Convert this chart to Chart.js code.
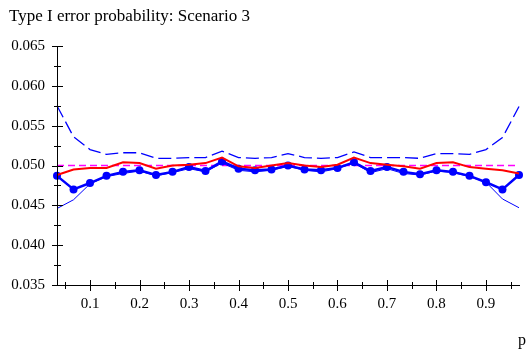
<!DOCTYPE html>
<html>
<head>
<meta charset="utf-8">
<script src="https://cdn.jsdelivr.net/npm/chart.js@4"></script>
<style>
  html, body { margin: 0; padding: 0; background: #fff; }
</style>
</head>
<body>
<canvas id="errChart" width="532" height="354"></canvas>
<script>
// valores de p (k/30)
const pValues = [0.0333, 0.0667, 0.1, 0.1333, 0.1667, 0.2, 0.2333, 0.2667, 0.3, 0.3333,
  0.3667, 0.4, 0.4333, 0.4667, 0.5, 0.5333, 0.5667, 0.6, 0.6333, 0.6667,
  0.7, 0.7333, 0.7667, 0.8, 0.8333, 0.8667, 0.9, 0.9333, 0.9667];

// series
const redSeries = [0.0488, 0.0495, 0.0497, 0.0497, 0.0504, 0.0503, 0.0496, 0.0500, 0.0501, 0.0503,
  0.0510, 0.0499, 0.0497, 0.0500, 0.0503, 0.0500, 0.0498, 0.0501, 0.0510, 0.0503,
  0.0501, 0.0499, 0.0496, 0.0503, 0.0504, 0.0498, 0.0496, 0.0494, 0.0490];
const upperDashed = [0.0575, 0.0536, 0.0520, 0.0514, 0.0516, 0.0516, 0.0509, 0.0509, 0.0510, 0.0510,
  0.0518, 0.0510, 0.0509, 0.0510, 0.0515, 0.0510, 0.0509, 0.0510, 0.0517, 0.0510,
  0.0510, 0.0510, 0.0509, 0.0515, 0.0515, 0.0514, 0.0520, 0.0535, 0.0574];
const markerSeries = [0.0487, 0.0470, 0.0478, 0.0487, 0.0492, 0.0494, 0.0488, 0.0492, 0.0498, 0.0493,
  0.0505, 0.0496, 0.0494, 0.0495, 0.0500, 0.0495, 0.0494, 0.0497, 0.0504, 0.0493,
  0.0498, 0.0492, 0.0489, 0.0494, 0.0492, 0.0487, 0.0479, 0.0470, 0.0488];
const lowerThin = [0.0446, 0.0457, 0.0477, 0.0486, 0.0490, 0.0493, 0.0487, 0.0491, 0.0496, 0.0492,
  0.0503, 0.0494, 0.0492, 0.0494, 0.0499, 0.0494, 0.0492, 0.0496, 0.0503, 0.0491,
  0.0496, 0.0490, 0.0488, 0.0493, 0.0491, 0.0486, 0.0479, 0.0458, 0.0447];
const nominalP = [0.0333, 0.9667];
const nominal = [0.05, 0.05];

// marcas de los ejes
const xTicks = [0.1, 0.2, 0.3, 0.4, 0.5, 0.6, 0.7, 0.8, 0.9];
const yTicks = [0.035, 0.040, 0.045, 0.050, 0.055, 0.060, 0.065];

const chartTitle = 'Type I error probability: Scenario 3';
const serif = "'Liberation Serif', 'DejaVu Serif', serif";

function pts(xs, ys) {
  return xs.map((x, i) => ({ x: x, y: ys[i] }));
}

// Dibujar ejes con marcas que cruzan la linea, titulo y etiqueta p
const axesPlugin = {
  id: 'axesPlugin',
  afterDraw(chart) {
    const ctx = chart.ctx;
    const xs = chart.scales.x;
    const ys = chart.scales.y;
    const area = chart.chartArea;
    ctx.save();
    ctx.strokeStyle = '#000';
    ctx.lineWidth = 1;
    ctx.beginPath();
    ctx.moveTo(area.left + 0.5, ys.getPixelForValue(yTicks[yTicks.length - 1]));
    ctx.lineTo(area.left + 0.5, area.bottom + 0.5);
    ctx.lineTo(area.right + 1, area.bottom + 0.5);
    // y mayores
    yTicks.forEach(v => {
      const y = Math.round(ys.getPixelForValue(v)) + 0.5;
      ctx.moveTo(area.left - 5, y);
      ctx.lineTo(area.left + 6, y);
    });
    // y menores
    for (let i = 0; i < yTicks.length - 1; i++) {
      const y = Math.round(ys.getPixelForValue((yTicks[i] + yTicks[i + 1]) / 2)) + 0.5;
      ctx.moveTo(area.left - 3, y);
      ctx.lineTo(area.left + 4, y);
    }
    // x mayores
    xTicks.forEach(v => {
      const x = Math.round(xs.getPixelForValue(v)) + 0.5;
      ctx.moveTo(x, area.bottom - 5);
      ctx.lineTo(x, area.bottom + 6);
    });
    // x menores
    const xMinor = [xTicks[0] - 0.05].concat(xTicks.map(v => v + 0.05));
    xMinor.forEach(v => {
      if (v < xs.min || v > xs.max) return;
      const x = Math.round(xs.getPixelForValue(v)) + 0.5;
      ctx.moveTo(x, area.bottom - 3);
      ctx.lineTo(x, area.bottom + 4);
    });
    ctx.stroke();
    ctx.fillStyle = '#000';
    ctx.textAlign = 'left';
    ctx.textBaseline = 'alphabetic';
    // titulo
    ctx.font = '17px ' + serif;
    ctx.fillText(chartTitle, 9, 21);
    // etiqueta del eje x
    ctx.font = '16px ' + serif;
    ctx.fillText('p', 518, 345);
    ctx.restore();
  }
};

const ctx = document.getElementById('errChart').getContext('2d');
new Chart(ctx, {
  type: 'line',
  data: {
    datasets: [
      {
        label: 'Marcadores',
        data: pts(pValues, markerSeries),
        borderColor: '#0000ff',
        backgroundColor: '#0000ff',
        borderWidth: 2.5,
        pointRadius: 4,
        pointBorderWidth: 0,
        order: 1
      },
      {
        label: 'Rojo',
        data: pts(pValues, redSeries),
        borderColor: '#ff0000',
        borderWidth: 2,
        pointRadius: 0,
        order: 0
      },
      {
        label: 'Inferior',
        data: pts(pValues, lowerThin),
        borderColor: '#0000ff',
        borderWidth: 1,
        pointRadius: 0,
        order: 2
      },
      {
        label: 'Superior',
        data: pts(pValues, upperDashed),
        borderColor: '#0000ff',
        borderWidth: 1.3,
        borderDash: [13, 5],
        pointRadius: 0,
        order: 3
      },
      {
        label: 'Nominal',
        data: pts(nominalP, nominal),
        borderColor: '#ff00ff',
        borderWidth: 1.5,
        borderDash: [7, 4],
        pointRadius: 0,
        order: 4
      }
    ]
  },
  options: {
    responsive: false,
    animation: false,
    clip: false,
    layout: { padding: { left: 0, right: 13, top: 46, bottom: 0 } },
    plugins: {
      legend: { display: false },
      tooltip: { enabled: false },
      title: { display: false }
    },
    scales: {
      x: {
        type: 'linear',
        min: pValues[0],
        max: pValues[pValues.length - 1],
        afterFit: s => { s.height = 69; },
        afterBuildTicks: s => { s.ticks = xTicks.map(v => ({ value: v })); },
        grid: { display: false, drawTicks: false },
        border: { display: false },
        ticks: {
          color: '#000',
          font: { family: serif, size: 15 },
          padding: 10,
          maxRotation: 0,
          autoSkip: false,
          callback: v => String(v)
        }
      },
      y: {
        min: yTicks[0],
        max: yTicks[yTicks.length - 1],
        afterFit: s => { s.width = 57; },
        afterBuildTicks: s => { s.ticks = yTicks.map(v => ({ value: v })); },
        grid: { display: false, drawTicks: false },
        border: { display: false },
        ticks: {
          color: '#000',
          font: { family: serif, size: 15 },
          padding: 12,
          callback: v => v.toFixed(3)
        }
      }
    }
  },
  plugins: [axesPlugin]
});
</script>
</body>
</html>
